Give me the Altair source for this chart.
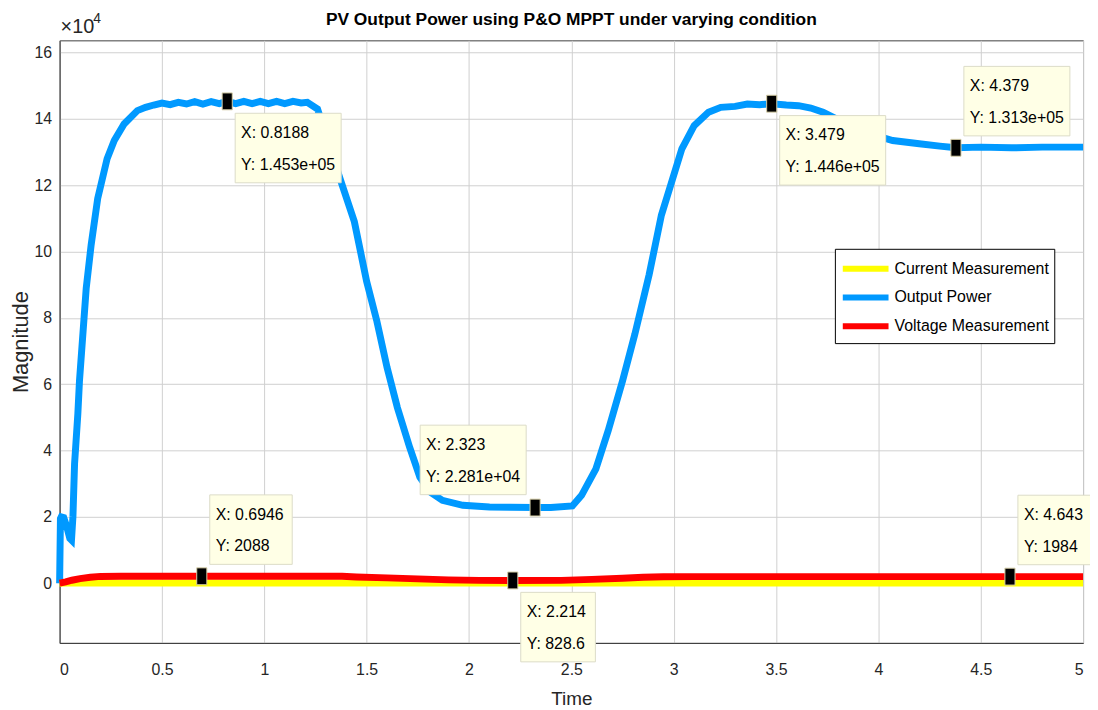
import altair as alt
import pandas as pd

# ---------------- data ----------------
# Output Power (W)
power_t = [0.0, 0.004, 0.008, 0.02, 0.035, 0.05, 0.058, 0.065, 0.073, 0.089, 0.097,
           0.13, 0.154, 0.186, 0.232, 0.267, 0.315, 0.38, 0.42, 0.46, 0.50, 0.54,
           0.58, 0.62, 0.66, 0.70, 0.74, 0.78, 0.8188, 0.86, 0.90, 0.94, 0.98, 1.02,
           1.06, 1.10, 1.14, 1.18, 1.21, 1.26, 1.37, 1.44, 1.50, 1.55, 1.60, 1.65,
           1.71, 1.76, 1.81, 1.87, 1.97, 2.10, 2.20, 2.323, 2.40, 2.505, 2.55,
           2.62, 2.68, 2.75, 2.81, 2.88, 2.94, 2.99, 3.04, 3.10, 3.17, 3.23, 3.30,
           3.36, 3.42, 3.479, 3.55, 3.61, 3.67, 3.73, 3.79, 3.85, 3.96, 4.07, 4.20,
           4.30, 4.379, 4.50, 4.65, 4.80, 5.0]
power_v = [0, 19500, 20000, 19800, 17000, 13500, 13000, 20000, 36000, 51000, 61000,
           89000, 102000, 116000, 128000, 133500, 138500, 142500, 143500, 144200, 144800, 144300,
           145000, 144500, 145200, 144500, 145200, 144600, 145300, 144600, 145300, 144600, 145300, 144600,
           145300, 144600, 145300, 144800, 145000, 143000, 122000, 109000, 91000, 79000, 65000, 53000,
           41000, 32000, 27500, 25000, 23500, 23000, 22900, 22810, 22810, 23300, 26500,
           34500, 46000, 61000, 75000, 93000, 111000, 121000, 131000, 138000, 142000, 143500, 143800,
           144500, 144300, 144600, 144200, 144000, 143300, 142000, 140200, 138500, 135500, 133500, 132500,
           131800, 131300, 131500, 131300, 131500, 131500]

# Voltage / Current measurements
meas_t = [0.0, 0.03, 0.06, 0.10, 0.15, 0.20, 0.30, 0.6946, 1.0, 1.38, 1.45, 1.60,
          1.75, 1.90, 2.05, 2.214, 2.45, 2.60, 2.75, 2.85, 2.95, 3.10, 4.643, 5.0]
voltage_v = [0, 400, 900, 1400, 1800, 2050, 2088, 2088, 2088, 2088, 1900, 1600,
             1300, 1000, 860, 828.6, 850, 1150, 1500, 1800, 1950, 1984, 1984, 1984]
current_v = [0, 30, 45, 60, 66, 69, 69, 70, 70, 69, 60, 50,
             40, 30, 27, 27.5, 27, 30, 45, 58, 65, 66, 66, 66]

series_names = ["Current Measurement", "Output Power", "Voltage Measurement"]
series_colors = ["#FFFF00", "#0099FF", "#FF0000"]

# data tips
tip_x = [0.8188, 0.6946, 2.323, 2.214, 3.479, 4.379, 4.643]
tip_y = [145300, 2088, 22810, 828.6, 144600, 131300, 1984]
tip_place = ["below-right", "above-right", "above-left", "below-right",
             "below-right", "above-right", "above-right"]

x_ticks = [0, 0.5, 1, 1.5, 2, 2.5, 3, 3.5, 4, 4.5, 5]
y_ticks = [0, 20000, 40000, 60000, 80000, 100000, 120000, 140000, 160000]

title_text = "PV Output Power using P&O MPPT under varying condition"

# ---------------- layout / style ----------------
W, H = 1031, 607
X_DOM = [0, 5]
Y_DOM = [-18000, 163700]
FONT = "Liberation Sans, Arial, Helvetica"
TXT = "#262626"
FS = 16

xs = alt.Scale(domain=X_DOM, nice=False, zero=False)
ys = alt.Scale(domain=Y_DOM, nice=False, zero=False)

rows = []
for t, v in zip(power_t, power_v):
    rows.append({"t": t, "v": v, "s": series_names[1]})
for t, v in zip(meas_t, current_v):
    rows.append({"t": t, "v": v, "s": series_names[0]})
for t, v in zip(meas_t, voltage_v):
    rows.append({"t": t, "v": v, "s": series_names[2]})
df = pd.DataFrame(rows)

# data tip boxes (pixel offsets converted through the fixed scale)
pxx = W / (X_DOM[1] - X_DOM[0])
pxy = H / (Y_DOM[1] - Y_DOM[0])
BOX_H = 70
boxes, texts = [], []
for x, y, pl in zip(tip_x, tip_y, tip_place):
    xl = "X: %.4g" % x
    yl = "Y: %.4g" % y
    w = 12 + 7.9 * max(len(xl), len(yl))
    if pl == "below-right":
        left, top = 8, 12
    elif pl == "above-right":
        left, top = 8, -12 - BOX_H
    else:
        left, top = -9 - w, -13 - BOX_H
    x0 = x + left / pxx
    x1 = x + (left + w) / pxx
    y0 = y - top / pxy
    y1 = y - (top + BOX_H) / pxy
    boxes.append({"x0": x0, "x1": x1, "y0": y0, "y1": y1, "mx": x, "my": y})
    texts.append({"tx": x + (left + 6) / pxx, "ty": y - (top + 20) / pxy, "lab": xl})
    texts.append({"tx": x + (left + 6) / pxx, "ty": y - (top + 52) / pxy, "lab": yl})
bdf = pd.DataFrame(boxes)
tdf = pd.DataFrame(texts)

base_x = alt.X("t:Q", scale=xs, title="Time",
               axis=alt.Axis(values=x_ticks, format="~g", ticks=False, labelPadding=19,
                             titlePadding=12, titleFontSize=19))
base_y = alt.Y("v:Q", scale=ys, title="Magnitude",
               axis=alt.Axis(values=y_ticks, labelExpr="datum.value / 10000", ticks=False,
                             labelPadding=8, titlePadding=2, titleFontSize=22))

lines = alt.Chart(df).mark_line(strokeWidth=7, interpolate="linear").encode(
    x=base_x,
    y=base_y,
    color=alt.Color("s:N", title=None,
                    scale=alt.Scale(domain=series_names, range=series_colors),
                    legend=alt.Legend(orient="none", legendX=781, legendY=210,
                                      symbolType="M-1.92,0H1.92", symbolSize=576,
                                      symbolStrokeWidth=6, symbolOffset=11,
                                      labelOffset=14, labelFontSize=FS, labelFont=FONT,
                                      labelColor="black", labelLimit=0, padding=5,
                                      rowPadding=2,
                                      strokeColor="black", fillColor="white")),
    order=alt.Order("t:Q"),
)

rects = alt.Chart(bdf).mark_rect(fill="#FFFFE6", stroke="#dcdcc8", strokeWidth=1).encode(
    x=alt.X("x0:Q", scale=xs), x2="x1:Q",
    y=alt.Y("y0:Q", scale=ys), y2="y1:Q",
)

labels = alt.Chart(tdf).mark_text(align="left", baseline="middle", fontSize=FS,
                                  font=FONT, color="black").encode(
    x=alt.X("tx:Q", scale=xs), y=alt.Y("ty:Q", scale=ys), text="lab:N"
)

markers = alt.Chart(bdf).mark_point(shape="M-0.6,-1H0.6V1H-0.6Z", size=289, filled=True,
                                    fill="black", stroke="#d8d0a8", strokeWidth=1,
                                    opacity=1).encode(
    x=alt.X("mx:Q", scale=xs), y=alt.Y("my:Q", scale=ys)
)

one = pd.DataFrame({"a": [1]})
exp_base = alt.Chart(one).mark_text(
    align="left", baseline="middle", fontSize=20, font=FONT, color=TXT
).encode(x=alt.value(1), y=alt.value(-13), text=alt.value("×10"))
exp_pow = alt.Chart(one).mark_text(
    align="left", baseline="middle", fontSize=14, font=FONT, color=TXT
).encode(x=alt.value(34), y=alt.value(-21), text=alt.value("4"))
title_mark = alt.Chart(one).mark_text(
    align="center", baseline="middle", fontSize=17.5, font=FONT, fontWeight="bold",
    color="black"
).encode(x=alt.value(W / 2), y=alt.value(-20), text=alt.value(title_text))

chart = alt.layer(lines, rects, labels, markers, exp_base, exp_pow, title_mark).properties(
    width=W, height=H,
    autosize=alt.AutoSizeParams(type="none"),
    padding={"left": 52, "top": 30, "right": 7, "bottom": 64},
    background="white",
).configure_view(stroke="#404040", strokeWidth=1).configure_axis(
    labelFont=FONT, titleFont=FONT, labelFontSize=FS,
    labelColor=TXT, titleColor=TXT, titleFontWeight="normal",
    domainColor="#404040", gridColor="#d0d0d0", gridOpacity=1,
)

chart.save("out.html", embed_options={"renderer": "svg", "actions": False})
